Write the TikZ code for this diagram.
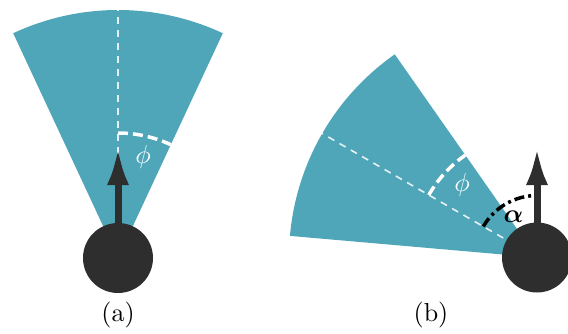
\documentclass[tikz,border=0pt]{standalone}
\usepackage{amsmath}
\usetikzlibrary{arrows.meta}
\definecolor{sectorcol}{HTML}{4FA6B9}
\definecolor{robotcol}{HTML}{2E2E2E}
\begin{document}
\begin{tikzpicture}[x=1pt,y=1pt,
  sector/.style={fill=sectorcol},
  axisline/.style={white, opacity=0.85, line width=1.6pt, dash pattern=on 7pt off 6pt},
  phiarc/.style={white, line width=3.5pt, dash pattern=on 10pt off 5pt},
  alphaarc/.style={black, line width=3.5pt, dash pattern=on 10pt off 4pt on 3pt off 4pt},
  robot/.style={circle, fill=robotcol, minimum size=70pt, inner sep=0pt},
  heading/.style={draw=robotcol, line width=7pt, -{Latex[length=38pt,width=22pt]}},
  lbl/.style={scale=2.6, inner sep=0pt}]
\useasboundingbox (0,0) rectangle (568,333);
\clip (0,0) rectangle (568,333);
% ---- panel (a)
\coordinate (ca) at (118,75);
\fill[sector] (ca) -- ++(65:248) arc[start angle=65,end angle=115,radius=248] -- cycle;
\draw[axisline] (ca) -- ++(90:248);
\draw[phiarc] ([shift={(90:125)}]ca) arc[start angle=90,end angle=65,radius=125];
\node[robot] (ra) at (ca) {};
\coordinate (ta) at (118,186);
\draw[heading] (ra.center) -- (ta);
\node[lbl, text=white] (phia) at ([shift={(76:104)}]ca) {$\phi$};
\node[lbl, anchor=base] (la) at (118,11.5) {(a)};
% ---- panel (b)
\coordinate (cb) at (537,75.5);
\fill[sector] (cb) -- ++(125:248) arc[start angle=125,end angle=175,radius=248] -- cycle;
\draw[axisline] (cb) -- ++(150:248);
\draw[phiarc] ([shift={(150:125)}]cb) arc[start angle=150,end angle=125,radius=125];
\draw[alphaarc] ([shift={(150:62)}]cb) arc[start angle=150,end angle=90,radius=62];
\node[robot] (rb) at (cb) {};
\coordinate (tb) at (537,186);
\draw[heading] (rb.center) -- (tb);
\node[lbl, text=white] (phib) at ([shift={(136:104)}]cb) {$\phi$};
\node[lbl] (alb) at ([shift={(120:47)}]cb) {$\boldsymbol{\alpha}$};
\node[lbl, anchor=base] (lb) at (431,11.5) {(b)};
\end{tikzpicture}
\end{document}
